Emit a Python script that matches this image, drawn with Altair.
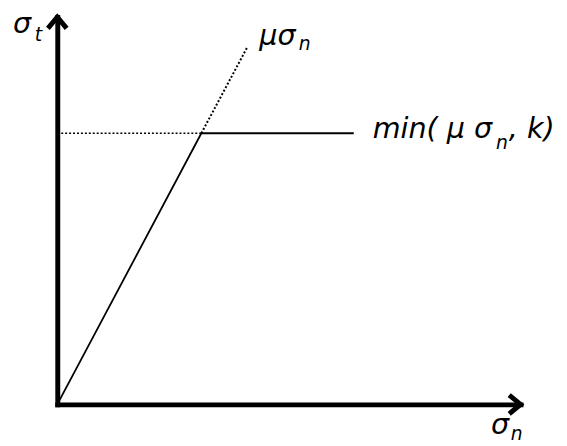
import altair as alt
import pandas as pd

# ---- data (axis units: sigma_n 0..10, sigma_t 0..10) ----
solid_x = [0.0, 3.11, 6.4]
solid_y = [0.0, 7.0, 7.0]
dot_slope_x = [3.11, 4.1]
dot_slope_y = [7.0, 9.22]
dot_flat_x = [0.0, 3.11]
dot_flat_y = [7.0, 7.0]

label_text = ["σ", "t", "μσ", "n", "min( μ σ", "n", ", k)", "σ", "n"]
label_x = [-0.957, -0.489, 4.362, 5.213, 6.809, 9.468, 9.745, 9.362, 9.787]
label_y = [9.59, 9.39, 9.288, 9.16, 6.87, 6.59, 6.87, -0.763, -0.916]
label_fs = [29, 19, 29, 19, 29, 19, 29, 29, 19]

solid = pd.DataFrame({"x": solid_x, "y": solid_y})
dslope = pd.DataFrame({"x": dot_slope_x, "y": dot_slope_y})
dflat = pd.DataFrame({"x": dot_flat_x, "y": dot_flat_y})
labels = pd.DataFrame({"x": label_x, "y": label_y, "t": label_text, "fs": label_fs})
arrow_r = pd.DataFrame({"x": [10.0], "y": [0.0]})
arrow_u = pd.DataFrame({"x": [0.0], "y": [10.0]})

ax = dict(domain=True, domainWidth=5, domainColor="black", domainCap="square",
          ticks=False, labels=False, grid=False, title=None)
X = alt.X("x:Q", scale=alt.Scale(domain=[0, 10], nice=False, zero=False), axis=alt.Axis(**ax))
Y = alt.Y("y:Q", scale=alt.Scale(domain=[0, 10], nice=False, zero=False), axis=alt.Axis(**ax))
Xn = alt.X("x:Q")
Yn = alt.Y("y:Q")

base_line = alt.Chart(solid).mark_line(color="black", strokeWidth=1.8).encode(x=X, y=Y)
slope_dot = alt.Chart(dslope).mark_line(color="black", strokeWidth=2, strokeDash=[2, 2]).encode(x=Xn, y=Yn)
flat_dot = alt.Chart(dflat).mark_line(color="black", strokeWidth=1.6, strokeDash=[2, 2]).encode(x=Xn, y=Yn)

ar = alt.Chart(arrow_r).mark_point(shape="M-1.15,-0.95L0,0L-1.15,0.95", size=400, filled=False,
                                   stroke="black", strokeWidth=5, opacity=1).encode(x=Xn, y=Yn)
au = alt.Chart(arrow_u).mark_point(shape="M-0.95,1.15L0,0L0.95,1.15", size=400, filled=False,
                                   stroke="black", strokeWidth=5, opacity=1).encode(x=Xn, y=Yn)

txt = alt.Chart(labels).mark_text(align="left", baseline="alphabetic", font="DejaVu Sans",
                                  fontStyle="italic", color="black").encode(
    x=Xn, y=Yn, text="t:N", size=alt.Size("fs:Q", scale=None))

chart = alt.layer(base_line, slope_dot, flat_dot, ar, au, txt).properties(
    width=470, height=393,
    autosize=alt.AutoSizeParams(type="none"),
    padding={"left": 50, "top": 6, "right": 39, "bottom": 38},
).configure_view(stroke=None)

chart.save("out.html", embed_options={"renderer": "svg", "actions": False})
